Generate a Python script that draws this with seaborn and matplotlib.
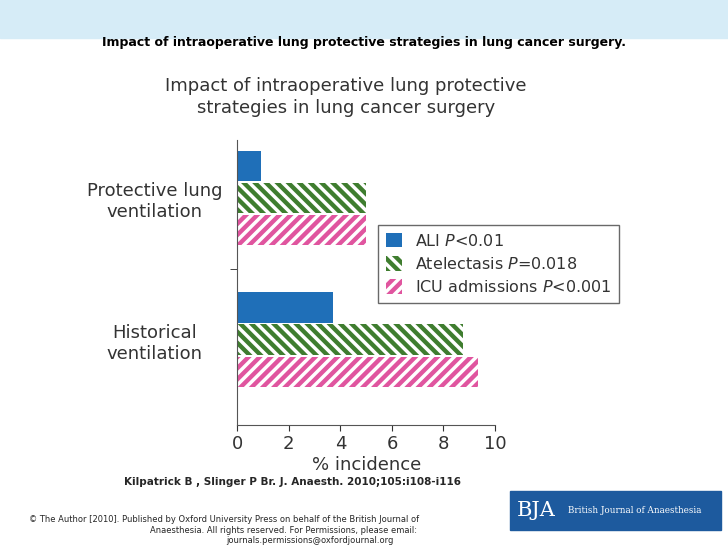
import numpy as np
import pandas as pd
import seaborn as sns
import matplotlib.pyplot as plt
from matplotlib.patches import Rectangle, Patch

groups = ['Protective lung\nventilation', 'Historical\nventilation']
series = ['ALI', 'Atelectasis', 'ICU admissions']
ali = [0.9, 3.7]
atelectasis = [5.0, 8.75]
icu = [5.0, 9.35]
colors = ['#1f6fb8', '#3f7d2f', '#e0559f']
hatches = ['', '\\\\\\', '///']
leg_labels = ['ALI $\\it{P}$<0.01', 'Atelectasis $\\it{P}$=0.018', 'ICU admissions $\\it{P}$<0.001']

df = pd.DataFrame({
    'group': groups * 3,
    'series': [s for s in series for _ in groups],
    'value': ali + atelectasis + icu,
})

sns.set_style('white')
plt.rcParams['font.family'] = ['DejaVu Sans']
plt.rcParams['hatch.color'] = 'white'
plt.rcParams['hatch.linewidth'] = 2.5

fig = plt.figure(figsize=(7.28, 5.46), dpi=100)
fig.patch.set_facecolor('white')
# light blue band at top of slide
fig.patches.append(Rectangle((0, 0.93), 1, 0.07, transform=fig.transFigure,
                             color='#d6ecf7', zorder=0))
fig.text(0.5, 0.923, 'Impact of intraoperative lung protective strategies in lung cancer surgery.',
         ha='center', va='center', fontsize=9, fontweight='bold', color='black')

ax = fig.add_axes([0.326, 0.222, 0.354, 0.522])
sns.barplot(data=df, y='group', x='value', hue='series', orient='h',
            palette=colors, saturation=1, width=0.68, gap=0.05, ax=ax, legend=False)
for cont, h in zip(ax.containers, hatches):
    for bar in cont:
        bar.set_hatch(h)
        bar.set_edgecolor('white' if h else bar.get_facecolor())
        bar.set_linewidth(0)

ax.set_xlim(0, 10)
ax.set_ylim(1.6, -0.41)
ax.set_xticks(range(0, 11, 2))
ax.set_xlabel('% incidence', fontsize=13, color='#333333', labelpad=2)
ax.set_ylabel('')
ax.tick_params(axis='x', labelsize=13, colors='#333333', length=4, direction='out', bottom=True)
ax.tick_params(axis='y', labelsize=13, colors='#333333', length=0, pad=6)
ax.set_yticks([0.5], minor=True)
ax.tick_params(axis='y', which='minor', length=5, left=True, direction='out')
for lbl in ax.get_yticklabels():
    lbl.set_horizontalalignment('center')
    lbl.set_x(-0.29)
sns.despine(ax=ax)
for sp in ['left', 'bottom']:
    ax.spines[sp].set_color('#555555')

handles = [Patch(facecolor=c, hatch=h, edgecolor='white' if h else c, linewidth=0)
           for c, h in zip(colors, hatches)]
leg = fig.legend(handles, leg_labels, loc='upper left', bbox_to_anchor=(0.508, 0.603),
                 fontsize=11.5, frameon=True, fancybox=False, edgecolor='#444444',
                 handlelength=1.0, handleheight=1.0, borderpad=0.5, labelspacing=0.45)
for t in leg.get_texts():
    t.set_color('#333333')

fig.text(0.475, 0.823, 'Impact of intraoperative lung protective\nstrategies in lung cancer surgery',
         ha='center', va='center', fontsize=13, color='#333333', linespacing=1.3)

fig.text(0.17, 0.117, 'Kilpatrick B , Slinger P Br. J. Anaesth. 2010;105:i108-i116',
         ha='left', va='center', fontsize=7.5, fontweight='bold')
fig.text(0.04, 0.048, '© The Author [2010]. Published by Oxford University Press on behalf of the British Journal of',
         ha='left', va='center', fontsize=6)
fig.text(0.39, 0.028, 'Anaesthesia. All rights reserved. For Permissions, please email:',
         ha='center', va='center', fontsize=6)
fig.text(0.54, 0.01, 'journals.permissions@oxfordjournal.org', ha='right', va='center', fontsize=6)

fig.patches.append(Rectangle((0.70, 0.03), 0.29, 0.07, transform=fig.transFigure,
                             color='#1d5a9e', zorder=1))
fig.text(0.71, 0.065, 'BJA', ha='left', va='center', fontsize=15, color='white',
         family='DejaVu Serif', zorder=2)
fig.text(0.78, 0.065, 'British Journal of Anaesthesia', ha='left', va='center', fontsize=6.3,
         color='white', family='DejaVu Serif', zorder=2)

fig.savefig('out.png', dpi=100)
